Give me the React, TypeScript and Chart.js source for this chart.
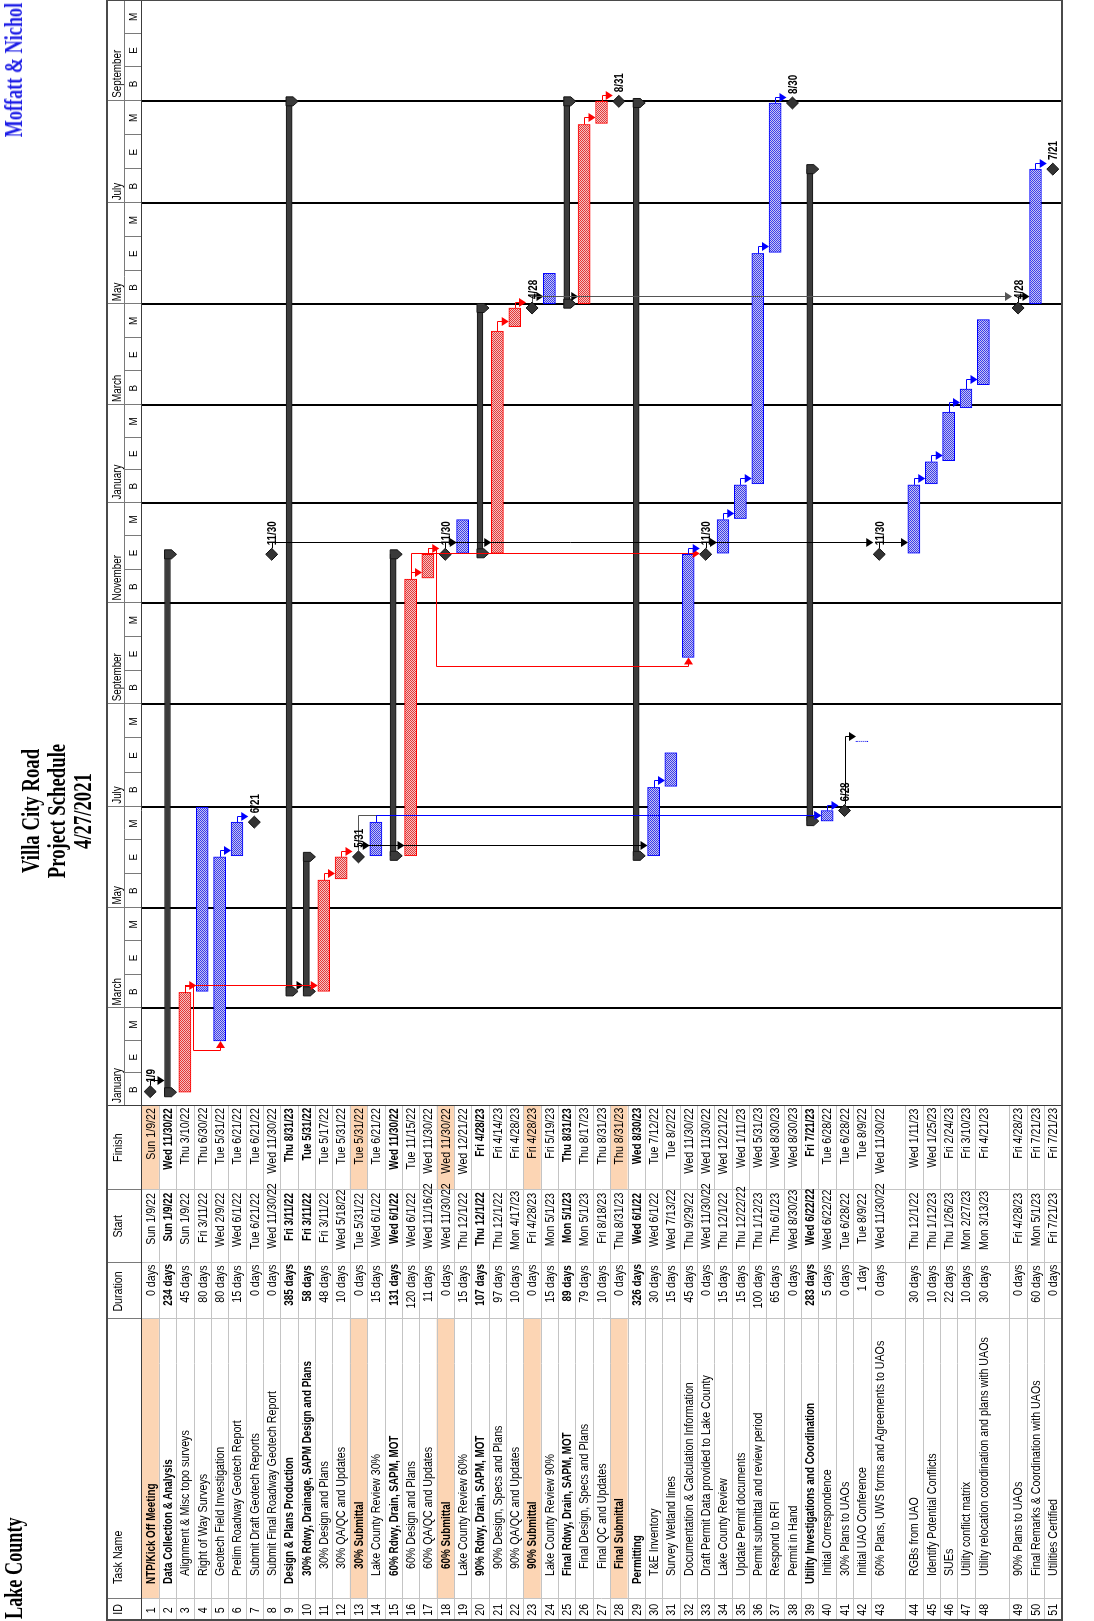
import React, { useEffect, useRef } from 'react';
import { Chart, registerables } from 'chart.js';

Chart.register(...registerables);

// ---------------- data ----------------
const taskNames: string[] = [
  'NTP/Kick Off Meeting',
  'Data Collection & Analysis',
  'Alignment & Misc topo surveys',
  'Right of Way Surveys',
  'Geotech Field Investigation',
  'Prelim Roadway Geotech Report',
  'Submit Draft Geotech Reports',
  'Submit Final Roadway Geotech Report',
  'Design & Plans Production',
  '30% Rdwy, Drainage, SAPM Design and Plans',
  '30% Design and Plans',
  '30% QA/QC and Updates',
  '30% Submittal',
  'Lake County Review 30%',
  '60% Rdwy, Drain, SAPM, MOT',
  '60% Design and Plans',
  '60% QA/QC and Updates',
  '60% Submittal',
  'Lake County Review 60%',
  '90% Rdwy, Drain, SAPM, MOT',
  '90% Design, Specs and Plans',
  '90% QA/QC and Updates',
  '90% Submittal',
  'Lake County Review 90%',
  'Final Rdwy, Drain, SAPM, MOT',
  'Final Design, Specs and Plans',
  'Final QC and Updates',
  'Final Submittal',
  'Permitting',
  'T&E Inventory',
  'Survey Wetland lines',
  'Documentation & Calculation Information',
  'Draft Permit Data provided to Lake County',
  'Lake County Review',
  'Update Permit documents',
  'Permit submittal and review period',
  'Respond to RFI',
  'Permit in Hand',
  'Utility Investigations and Coordination',
  'Initial Correspondence',
  '30% Plans to UAOs',
  'Initial UAO Conference',
  '60% Plans, UWS forms and Agreements to UAOs',
  'RGBs from UAO',
  'Identify Potential Conflicts',
  'SUEs',
  'Utility conflict matrix',
  'Utility relocation coordination and plans with UAOs',
  '90% Plans to UAOs',
  'Final Remarks & Coordination with UAOs',
  'Utilities Certified',
];

const durations: string[] = [
  '0 days', '234 days', '45 days', '80 days', '80 days', '15 days', '0 days', '0 days',
  '385 days', '58 days', '48 days', '10 days', '0 days', '15 days', '131 days', '120 days',
  '11 days', '0 days', '15 days', '107 days', '97 days', '10 days', '0 days', '15 days',
  '89 days', '79 days', '10 days', '0 days', '326 days', '30 days', '15 days', '45 days',
  '0 days', '15 days', '15 days', '100 days', '65 days', '0 days', '283 days', '5 days',
  '0 days', '1 day', '0 days', '30 days', '10 days', '22 days', '10 days', '30 days',
  '0 days', '60 days', '0 days',
];

const startDates: string[] = [
  'Sun 1/9/22', 'Sun 1/9/22', 'Sun 1/9/22', 'Fri 3/11/22', 'Wed 2/9/22', 'Wed 6/1/22', 'Tue 6/21/22', 'Wed 11/30/22',
  'Fri 3/11/22', 'Fri 3/11/22', 'Fri 3/11/22', 'Wed 5/18/22', 'Tue 5/31/22', 'Wed 6/1/22', 'Wed 6/1/22', 'Wed 6/1/22',
  'Wed 11/16/22', 'Wed 11/30/22', 'Thu 12/1/22', 'Thu 12/1/22', 'Thu 12/1/22', 'Mon 4/17/23', 'Fri 4/28/23', 'Mon 5/1/23',
  'Mon 5/1/23', 'Mon 5/1/23', 'Fri 8/18/23', 'Thu 8/31/23', 'Wed 6/1/22', 'Wed 6/1/22', 'Wed 7/13/22', 'Thu 9/29/22',
  'Wed 11/30/22', 'Thu 12/1/22', 'Thu 12/22/22', 'Thu 1/12/23', 'Thu 6/1/23', 'Wed 8/30/23', 'Wed 6/22/22', 'Wed 6/22/22',
  'Tue 6/28/22', 'Tue 8/9/22', 'Wed 11/30/22', 'Thu 12/1/22', 'Thu 1/12/23', 'Thu 1/26/23', 'Mon 2/27/23', 'Mon 3/13/23',
  'Fri 4/28/23', 'Mon 5/1/23', 'Fri 7/21/23',
];

const finishDates: string[] = [
  'Sun 1/9/22', 'Wed 11/30/22', 'Thu 3/10/22', 'Thu 6/30/22', 'Tue 5/31/22', 'Tue 6/21/22', 'Tue 6/21/22', 'Wed 11/30/22',
  'Thu 8/31/23', 'Tue 5/31/22', 'Tue 5/17/22', 'Tue 5/31/22', 'Tue 5/31/22', 'Tue 6/21/22', 'Wed 11/30/22', 'Tue 11/15/22',
  'Wed 11/30/22', 'Wed 11/30/22', 'Wed 12/21/22', 'Fri 4/28/23', 'Fri 4/14/23', 'Fri 4/28/23', 'Fri 4/28/23', 'Fri 5/19/23',
  'Thu 8/31/23', 'Thu 8/17/23', 'Thu 8/31/23', 'Thu 8/31/23', 'Wed 8/30/23', 'Tue 7/12/22', 'Tue 8/2/22', 'Wed 11/30/22',
  'Wed 11/30/22', 'Wed 12/21/22', 'Wed 1/11/23', 'Wed 5/31/23', 'Wed 8/30/23', 'Wed 8/30/23', 'Fri 7/21/23', 'Tue 6/28/22',
  'Tue 6/28/22', 'Tue 8/9/22', 'Wed 11/30/22', 'Wed 1/11/23', 'Wed 1/25/23', 'Fri 2/24/23', 'Fri 3/10/23', 'Fri 4/21/23',
  'Fri 4/28/23', 'Fri 7/21/23', 'Fri 7/21/23',
];

const outlineLevels: number[] = [
  0, 0, 1, 1, 1, 1, 1, 1, 0, 1, 2, 2, 2, 1, 1, 2, 2, 2, 1, 1, 2, 2, 2, 1, 1, 2, 2, 2,
  0, 1, 1, 1, 1, 1, 1, 1, 1, 1, 0, 1, 1, 1, 1, 1, 1, 1, 1, 1, 1, 1, 1,
];

const summaryRows: number[] = [2, 9, 10, 15, 20, 25, 29, 39];
const criticalRows: number[] = [3, 11, 12, 16, 17, 21, 22, 26, 27];
const highlightRows: number[] = [1, 13, 18, 23, 28];
const doubleHeightRows: number[] = [43, 48];

const periodLabels: string[] = [
  'January', 'March', 'May', 'July', 'September', 'November',
  'January', 'March', 'May', 'July', 'September',
];
const periodStarts: string[] = [
  '1/1/22', '3/1/22', '5/1/22', '7/1/22', '9/1/22', '11/1/22',
  '1/1/23', '3/1/23', '5/1/23', '7/1/23', '9/1/23', '11/1/23',
];
const thirdLabels: string[] = ['B', 'E', 'M'];

// predecessor, successor, line colour
const links: [number, number, string][] = [
  [1, 2, '#000000'],
  [3, 4, '#ff0000'], [3, 5, '#ff0000'], [3, 10, '#000000'], [3, 11, '#ff0000'],
  [5, 6, '#0000ff'], [6, 7, '#0000ff'],
  [8, 43, '#000000'],
  [11, 12, '#ff0000'], [12, 13, '#ff0000'],
  [13, 14, '#000000'], [13, 16, '#000000'], [13, 30, '#000000'], [13, 40, '#555555'],
  [14, 40, '#0000ff'],
  [16, 17, '#ff0000'], [16, 33, '#ff0000'], [17, 18, '#ff0000'], [17, 32, '#ff0000'],
  [18, 19, '#000000'], [18, 21, '#000000'],
  [21, 22, '#ff0000'], [22, 23, '#ff0000'],
  [23, 24, '#000000'], [23, 26, '#000000'], [23, 49, '#555555'],
  [26, 27, '#ff0000'], [27, 28, '#ff0000'],
  [30, 31, '#0000ff'],
  [32, 33, '#0000ff'], [33, 34, '#000000'], [34, 35, '#0000ff'], [35, 36, '#0000ff'],
  [36, 37, '#0000ff'], [37, 38, '#0000ff'],
  [40, 41, '#0000ff'], [41, 42, '#000000'],
  [43, 44, '#000000'], [44, 45, '#0000ff'], [45, 46, '#0000ff'], [46, 47, '#0000ff'], [47, 48, '#0000ff'],
  [49, 50, '#000000'], [50, 51, '#0000ff'],
];

// ---------------- layout (landscape page, rotated afterwards) ----------------
const PAGE_W = 1621;
const PAGE_H = 1094;
const FRAME_TOP = 107;
const TIER_SPLIT = 124;
const HEADER_BOTTOM = 141.5;
const BODY_BOTTOM = 1061.5;
const COL_EDGES = [0, 22, 302, 358, 431, 515];
const SANS = '"Liberation Sans", Arial, sans-serif';
const SERIF = '"Liberation Serif", "Times New Roman", serif';

// ---------------- helpers ----------------
const EPOCH = Date.UTC(2022, 0, 1);
function dayOf(s: string): number {
  const parts = s.trim().split(' ');
  const [m, d, y] = parts[parts.length - 1].split('/').map(Number);
  return (Date.UTC(2000 + y, m - 1, d) - EPOCH) / 86400000;
}
function shortDate(s: string): string {
  const parts = s.trim().split(' ');
  const [m, d] = parts[parts.length - 1].split('/');
  return `${m}/${d}`;
}
const N = taskNames.length;
const ids: number[] = Array.from({ length: N }, (_, i) => i + 1);
const rowSpan = (id: number) => (doubleHeightRows.includes(id) ? 2 : 1);
const rowStart: number[] = [];
let accUnits = 0;
for (const id of ids) {
  rowStart[id] = accUnits;
  accUnits += rowSpan(id);
}
const TOTAL_UNITS = accUnits;
const UNIT_PX = (BODY_BOTTOM - HEADER_BOTTOM) / TOTAL_UNITS;
const rowCenter = (id: number) => rowStart[id] + 0.5;
const isMilestone = (id: number) => durations[id - 1] === '0 days';
const isSummary = (id: number) => summaryRows.includes(id);
const isCritical = (id: number) => criticalRows.includes(id);
const barStart = (id: number) => dayOf(startDates[id - 1]) + 8 / 24;
const barEnd = (id: number) => dayOf(finishDates[id - 1]) + 17 / 24;
const AXIS_MIN = dayOf(periodStarts[0]);
const AXIS_MAX = dayOf(periodStarts[periodStarts.length - 1]);

function drawText(
  ctx: CanvasRenderingContext2D, s: string, x: number, y: number,
  font: string, sx: number, align: CanvasTextAlign, color = '#000',
) {
  ctx.save();
  ctx.translate(x, y);
  ctx.scale(sx, 1);
  ctx.font = font;
  ctx.textAlign = align;
  ctx.textBaseline = 'alphabetic';
  ctx.fillStyle = color;
  ctx.fillText(s, 0, 0);
  ctx.restore();
}

function makePattern(ctx: CanvasRenderingContext2D, c1: string, c2: string) {
  const cv = document.createElement('canvas');
  cv.width = 2;
  cv.height = 2;
  const c = cv.getContext('2d')!;
  c.fillStyle = c2;
  c.fillRect(0, 0, 2, 2);
  c.fillStyle = c1;
  c.fillRect(0, 0, 1, 1);
  c.fillRect(1, 1, 1, 1);
  return ctx.createPattern(cv, 'repeat')!;
}

const px = (v: number) => Math.round(v) + 0.5;

const ganttPlugin = {
  id: 'ganttDecor',
  beforeDatasetsDraw(chart: any) {
    const ctx: CanvasRenderingContext2D = chart.ctx;
    const xs = chart.scales.x;
    const ys = chart.scales.y;
    const X = (d: number) => xs.getPixelForValue(d);
    const Y = (u: number) => ys.getPixelForValue(u);
    const tableRight = COL_EDGES[5];
    ctx.save();

    // highlighted milestone rows in the table
    ctx.fillStyle = '#fcd5b4';
    for (const id of highlightRows) {
      const t = Y(rowStart[id]);
      const b = Y(rowStart[id] + rowSpan(id));
      ctx.fillRect(COL_EDGES[1], t, COL_EDGES[2] - COL_EDGES[1], b - t);
      ctx.fillRect(COL_EDGES[4], t, COL_EDGES[5] - COL_EDGES[4], b - t);
    }

    // table grid
    ctx.lineWidth = 1;
    ctx.strokeStyle = '#c4c4c4';
    ctx.beginPath();
    for (const id of ids) {
      const b = px(Y(rowStart[id] + rowSpan(id)));
      ctx.moveTo(0, b);
      ctx.lineTo(tableRight, b);
    }
    for (const c of COL_EDGES.slice(1, 5)) {
      ctx.moveTo(c + 0.5, HEADER_BOTTOM);
      ctx.lineTo(c + 0.5, BODY_BOTTOM);
    }
    ctx.stroke();

    // header separators
    ctx.strokeStyle = '#7a7a7a';
    ctx.beginPath();
    for (const c of COL_EDGES.slice(1, 5)) {
      ctx.moveTo(c + 0.5, FRAME_TOP);
      ctx.lineTo(c + 0.5, HEADER_BOTTOM);
    }
    ctx.moveTo(tableRight, TIER_SPLIT + 0.5);
    ctx.lineTo(PAGE_W, TIER_SPLIT + 0.5);
    for (let k = 0; k < periodStarts.length - 1; k++) {
      const a = dayOf(periodStarts[k]);
      const b = dayOf(periodStarts[k + 1]);
      const xa = px(X(a));
      ctx.moveTo(xa, FRAME_TOP);
      ctx.lineTo(xa, HEADER_BOTTOM);
      for (let j = 1; j < 3; j++) {
        const xt = px(X(a + ((b - a) * j) / 3));
        ctx.moveTo(xt, TIER_SPLIT);
        ctx.lineTo(xt, HEADER_BOTTOM);
      }
    }
    ctx.stroke();

    // timescale labels
    for (let k = 0; k < periodLabels.length; k++) {
      const a = dayOf(periodStarts[k]);
      const b = dayOf(periodStarts[k + 1]);
      drawText(ctx, periodLabels[k], X(a) + 3, 120.5, `12px ${SANS}`, 0.82, 'left');
      for (let j = 0; j < 3; j++) {
        const c = X(a + ((b - a) * (j + 0.5)) / 3);
        drawText(ctx, thirdLabels[j], c, 137, `11px ${SANS}`, 0.9, 'center');
      }
    }

    // major period lines in chart body
    ctx.strokeStyle = '#000';
    ctx.lineWidth = 2;
    ctx.beginPath();
    for (const p of periodStarts.slice(1, -1)) {
      const x = Math.round(X(dayOf(p)));
      ctx.moveTo(x, HEADER_BOTTOM);
      ctx.lineTo(x, BODY_BOTTOM);
    }
    ctx.stroke();

    // frame
    ctx.strokeStyle = '#3c3c3c';
    ctx.lineWidth = 1;
    ctx.beginPath();
    ctx.moveTo(0, HEADER_BOTTOM);
    ctx.lineTo(PAGE_W, HEADER_BOTTOM);
    ctx.moveTo(tableRight + 0.5, FRAME_TOP);
    ctx.lineTo(tableRight + 0.5, BODY_BOTTOM);
    ctx.stroke();
    ctx.lineWidth = 2;
    ctx.strokeStyle = '#4a4a4a';
    ctx.strokeRect(1, FRAME_TOP, PAGE_W - 1, BODY_BOTTOM + 0.5 - FRAME_TOP);
    ctx.restore();
  },
  afterDatasetsDraw(chart: any) {
    const ctx: CanvasRenderingContext2D = chart.ctx;
    const xs = chart.scales.x;
    const ys = chart.scales.y;
    const X = (d: number) => xs.getPixelForValue(d);
    const Y = (u: number) => ys.getPixelForValue(u);
    ctx.save();

    // summary end caps
    ctx.fillStyle = '#3a3a3a';
    ctx.strokeStyle = '#151515';
    ctx.lineWidth = 1;
    for (const id of summaryRows) {
      const top = Y(rowCenter(id)) - 3;
      for (const x of [X(barStart(id)), X(barEnd(id))]) {
        ctx.beginPath();
        ctx.moveTo(x - 4.5, top);
        ctx.lineTo(x + 4.5, top);
        ctx.lineTo(x + 4.5, top + 7);
        ctx.lineTo(x, top + 12);
        ctx.lineTo(x - 4.5, top + 7);
        ctx.closePath();
        ctx.fill();
        ctx.stroke();
      }
    }

    // dependency links
    const arrow = (tx: number, ty: number, dir: 'down' | 'right', color: string) => {
      ctx.beginPath();
      if (dir === 'down') {
        ctx.moveTo(tx, ty);
        ctx.lineTo(tx - 4.5, ty - 7);
        ctx.lineTo(tx + 4.5, ty - 7);
      } else {
        ctx.moveTo(tx, ty);
        ctx.lineTo(tx - 7, ty - 4.5);
        ctx.lineTo(tx - 7, ty + 4.5);
      }
      ctx.closePath();
      ctx.fillStyle = color;
      ctx.fill();
    };
    ctx.lineWidth = 1;
    for (const [p, s, color] of links) {
      const pm = isMilestone(p);
      const sm = isMilestone(s);
      const xfRaw = X(barEnd(p));
      const xf = xfRaw + (pm ? 6 : 0);
      const yp = px(Y(rowCenter(p)));
      const sx = X(sm ? barEnd(s) : barStart(s));
      const sy = Y(rowCenter(s));
      const half = sm ? 6 : isSummary(s) ? 3 : 6;
      ctx.strokeStyle = color;
      if (sx >= xfRaw - 2) {
        const xe = px(Math.max(xf + 5, sm ? sx : sx + 5));
        ctx.beginPath();
        ctx.moveTo(xf, yp);
        ctx.lineTo(xe, yp);
        ctx.lineTo(xe, sy - half - 5);
        ctx.stroke();
        arrow(xe, sy - half, 'down', color);
      } else {
        const yb = px(Y(rowStart[p] + rowSpan(p)) - 1);
        const xa = px(xf + 5);
        const xb = px(sx - 10);
        const syp = px(sy);
        ctx.beginPath();
        ctx.moveTo(xf, yp);
        ctx.lineTo(xa, yp);
        ctx.lineTo(xa, yb);
        ctx.lineTo(xb, yb);
        ctx.lineTo(xb, syp);
        ctx.lineTo(sx - 5, syp);
        ctx.stroke();
        arrow(sx, syp, 'right', color);
      }
    }

    // milestone date labels
    for (const id of ids.filter(isMilestone)) {
      const x = X(barEnd(id));
      const y = Y(rowCenter(id));
      drawText(ctx, shortDate(finishDates[id - 1]), x + 9, y + 4.5, `bold 12px ${SANS}`, 0.82, 'left');
    }
    ctx.restore();
  },
};

// ---------------- table text ----------------
function Cell(props: {
  left: number; top: number; width: number; align: 'left' | 'right' | 'center';
  bold?: boolean; pad?: number; children: React.ReactNode;
}) {
  const { left, top, width, align, bold, pad = 0, children } = props;
  const origin = align === 'left' ? 'left center' : align === 'right' ? 'right center' : 'center center';
  return (
    <div
      style={{
        position: 'absolute', left, top, width, height: UNIT_PX, lineHeight: `${UNIT_PX}px`,
        textAlign: align, whiteSpace: 'nowrap', fontSize: 13, fontFamily: SANS, color: '#000',
        paddingRight: align === 'right' ? pad : 0, boxSizing: 'border-box',
      }}
    >
      <span
        style={{
          display: 'inline-block', transform: `scaleX(${bold ? 0.76 : 0.82})`,
          transformOrigin: origin, fontWeight: bold ? 'bold' : 'normal',
        }}
      >
        {children}
      </span>
    </div>
  );
}

export default function App() {
  const ref = useRef<HTMLCanvasElement>(null);

  useEffect(() => {
    document.body.style.overflow = 'hidden';
    const canvas = ref.current!;
    const ctx = canvas.getContext('2d')!;
    const redPat = makePattern(ctx, '#e43a3a', '#f4c4c4');
    const bluePat = makePattern(ctx, '#3a3aee', '#c6c6ee');
    const normalRows = ids.filter((id) => !isMilestone(id) && !isSummary(id) && !isCritical(id));
    const chart = new Chart(canvas, {
      type: 'bar',
      data: {
        datasets: [
          {
            type: 'bar', label: 'Critical tasks', indexAxis: 'y', grouped: false,
            data: criticalRows.map((id) => ({ x: [barStart(id), barEnd(id)], y: rowCenter(id) })),
            backgroundColor: redPat, borderColor: '#ff0000', borderWidth: 1, borderSkipped: false,
            barThickness: 12, maxBarThickness: 12,
          } as any,
          {
            type: 'bar', label: 'Tasks', indexAxis: 'y', grouped: false,
            data: normalRows.map((id) => ({ x: [barStart(id), barEnd(id)], y: rowCenter(id) })),
            backgroundColor: bluePat, borderColor: '#0000ff', borderWidth: 1, borderSkipped: false,
            barThickness: 12, maxBarThickness: 12,
          } as any,
          {
            type: 'bar', label: 'Summaries', indexAxis: 'y', grouped: false,
            data: summaryRows.map((id) => ({ x: [barStart(id), barEnd(id)], y: rowCenter(id) })),
            backgroundColor: '#3c3c3c', borderColor: '#151515', borderWidth: 1, borderSkipped: false,
            barThickness: 6, maxBarThickness: 6,
          } as any,
          {
            type: 'scatter', label: 'Milestones',
            data: ids.filter(isMilestone).map((id) => ({ x: barEnd(id), y: rowCenter(id) })),
            pointStyle: 'rectRot', pointRadius: 6, pointHoverRadius: 6,
            backgroundColor: '#333333', borderColor: '#111111', borderWidth: 1,
          } as any,
        ],
      },
      options: {
        responsive: false,
        animation: false,
        devicePixelRatio: 1,
        events: [],
        layout: {
          autoPadding: false,
          padding: { left: COL_EDGES[5], right: 0, top: HEADER_BOTTOM, bottom: PAGE_H - BODY_BOTTOM },
        },
        scales: {
          x: { type: 'linear', min: AXIS_MIN, max: AXIS_MAX, display: false, offset: false },
          y: { type: 'linear', min: 0, max: TOTAL_UNITS, reverse: true, display: false, offset: false },
        },
        plugins: { legend: { display: false }, tooltip: { enabled: false } },
      } as any,
      plugins: [ganttPlugin],
    });
    return () => chart.destroy();
  }, []);

  const headerTop = FRAME_TOP + 2;

  return (
    <div
      style={{
        position: 'absolute', left: 0, top: 0, width: PAGE_W, height: PAGE_H, background: '#fff',
        transformOrigin: '0 0', transform: `translate(0px, ${PAGE_W}px) rotate(-90deg)`, overflow: 'hidden',
      }}
    >
      <canvas
        ref={ref}
        width={PAGE_W}
        height={PAGE_H}
        style={{ position: 'absolute', left: 0, top: 0, width: PAGE_W, height: PAGE_H }}
      />

      {/* titles */}
      <div
        style={{
          position: 'absolute', left: 2, top: 1, fontFamily: SERIF, fontWeight: 'bold', fontSize: 26,
          lineHeight: '26px', whiteSpace: 'nowrap', transform: 'scaleX(0.7)', transformOrigin: 'left top',
        }}
      >
        Lake County
      </div>
      <div
        style={{
          position: 'absolute', left: 660, width: 300, top: 18, fontFamily: SERIF, fontWeight: 'bold',
          fontSize: 26, lineHeight: '26px', textAlign: 'center', whiteSpace: 'nowrap',
          transform: 'scaleX(0.72)', transformOrigin: 'center top',
        }}
      >
        <div>Villa City Road</div>
        <div>Project Schedule</div>
        <div>4/27/2021</div>
      </div>
      <div
        style={{
          position: 'absolute', right: 3, top: 0, fontFamily: SERIF, fontWeight: 'bold', fontSize: 26,
          lineHeight: '28px', whiteSpace: 'nowrap', color: '#1f1fe6', transform: 'scaleX(0.7)',
          transformOrigin: 'right top',
        }}
      >
        Moffatt &amp; Nichol
      </div>

      {/* table header */}
      <Cell left={0} top={headerTop} width={COL_EDGES[1]} align="center">ID</Cell>
      <Cell left={37} top={headerTop} width={COL_EDGES[2] - 37} align="left">Task Name</Cell>
      <Cell left={COL_EDGES[2]} top={headerTop} width={COL_EDGES[3] - COL_EDGES[2]} align="center">Duration</Cell>
      <Cell left={COL_EDGES[3]} top={headerTop} width={COL_EDGES[4] - COL_EDGES[3]} align="center">Start</Cell>
      <Cell left={COL_EDGES[4]} top={headerTop} width={COL_EDGES[5] - COL_EDGES[4]} align="center">Finish</Cell>

      {/* table rows */}
      {ids.map((id) => {
        const top = HEADER_BOTTOM + rowStart[id] * UNIT_PX;
        const bold = isSummary(id);
        const nameBold = bold || highlightRows.includes(id);
        const nameLeft = 37 + outlineLevels[id - 1] * 7.5;
        return (
          <React.Fragment key={id}>
            <Cell left={0} top={top} width={COL_EDGES[1]} align="center">{id}</Cell>
            <Cell left={nameLeft} top={top} width={COL_EDGES[2] - nameLeft} align="left" bold={nameBold}>
              {taskNames[id - 1]}
            </Cell>
            <Cell left={COL_EDGES[2]} top={top} width={COL_EDGES[3] - COL_EDGES[2]} align="right" pad={2} bold={bold}>
              {durations[id - 1]}
            </Cell>
            <Cell left={COL_EDGES[3]} top={top} width={COL_EDGES[4] - COL_EDGES[3]} align="right" pad={3} bold={bold}>
              {startDates[id - 1]}
            </Cell>
            <Cell left={COL_EDGES[4]} top={top} width={COL_EDGES[5] - COL_EDGES[4]} align="right" pad={2} bold={bold}>
              {finishDates[id - 1]}
            </Cell>
          </React.Fragment>
        );
      })}
    </div>
  );
}
